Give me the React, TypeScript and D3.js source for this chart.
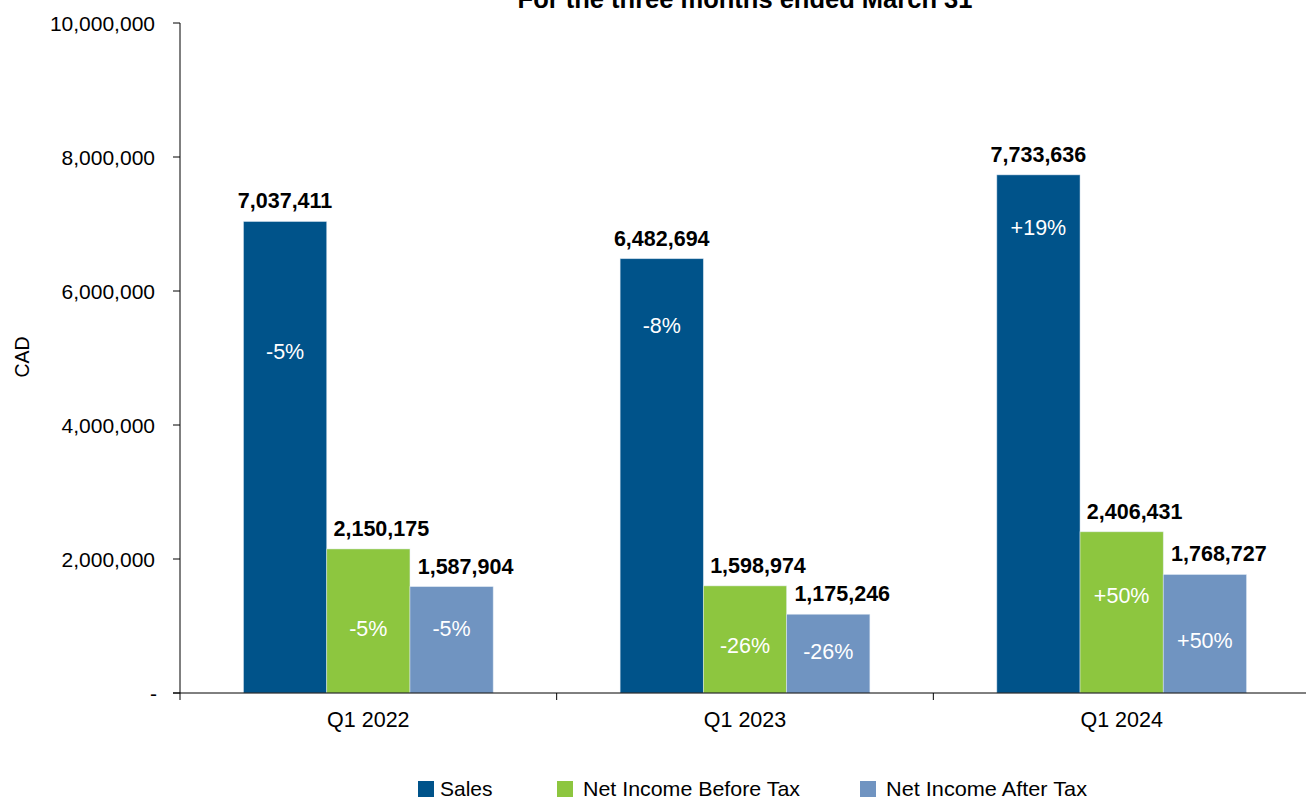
import React from "react";
import * as d3 from "d3";

const categories = ["Q1 2022", "Q1 2023", "Q1 2024"];
const seriesNames = ["Sales", "Net Income Before Tax", "Net Income After Tax"];
const sales = [7037411, 6482694, 7733636];
const netIncomeBeforeTax = [2150175, 1598974, 2406431];
const netIncomeAfterTax = [1587904, 1175246, 1768727];
const salesChange = ["-5%", "-8%", "+19%"];
const beforeTaxChange = ["-5%", "-26%", "+50%"];
const afterTaxChange = ["-5%", "-26%", "+50%"];
// vertical position (in CAD) of the change labels inside the bars
const salesChangeAt = [5100000, 5490000, 6955000];
const beforeTaxChangeAt = [970000, 716000, 1455000];
const afterTaxChangeAt = [970000, 612000, 784000];
const yTicks = [0, 2000000, 4000000, 6000000, 8000000, 10000000];
const title = "For the three months ended March 31";
const yAxisTitle = "CAD";

const colors = ["#00538a", "#8dc63f", "#7094c1"];

const W = 1306;
const H = 798;
const margin = { left: 180, right: -4, top: 23, bottom: 105 };
const FONT = "'Liberation Sans', Arial, sans-serif";

export default function App() {
  const x0 = d3
    .scaleBand<string>()
    .domain(categories)
    .range([margin.left, W - margin.right])
    .paddingInner(0)
    .paddingOuter(0);
  const innerPad = 0.1685;
  const x1 = d3
    .scaleBand<number>()
    .domain([0, 1, 2])
    .range([x0.bandwidth() * innerPad, x0.bandwidth() * (1 - innerPad)])
    .padding(0);
  const y = d3.scaleLinear().domain([0, 10000000]).range([H - margin.bottom, margin.top]);

  const values = [sales, netIncomeBeforeTax, netIncomeAfterTax];
  const changes = [salesChange, beforeTaxChange, afterTaxChange];
  const changeAt = [salesChangeAt, beforeTaxChangeAt, afterTaxChangeAt];
  const valueDx = [0, 13, 14];
  const fmt = d3.format(",");
  const x0Left = margin.left;
  const x0Right = W - margin.right;
  const y0 = y(0);

  const legendX = [418, 557, 860];

  return (
    <svg
      width={W}
      height={H}
      style={{ position: "absolute", left: 0, top: 0, background: "#fff" }}
      fontFamily={FONT}
    >
      <text x={(x0Left + x0Right) / 2} y={8} textAnchor="middle" fontSize={25.5} fontWeight="bold" fill="#000">
        {title}
      </text>

      {/* y axis */}
      <line x1={x0Left} x2={x0Left} y1={y(10000000)} y2={y0 + 7} stroke="#000" strokeWidth={1} />
      {yTicks.map((t) => (
        <g key={t}>
          <line x1={x0Left - 7} x2={x0Left} y1={y(t)} y2={y(t)} stroke="#000" />
          <text x={t === 0 ? 157 : 155} y={y(t) + 7.5} textAnchor="end" fontSize={21} fill="#000">
            {t === 0 ? "-" : fmt(t)}
          </text>
        </g>
      ))}
      <text
        transform={`translate(29, ${y(5000000) - 1}) rotate(-90)`}
        textAnchor="middle"
        fontSize={19.5}
        fill="#000"
      >
        {yAxisTitle}
      </text>

      {/* bars */}
      {categories.map((c, ci) => (
        <g key={c} transform={`translate(${x0(c)},0)`}>
          {values.map((arr, si) => (
            <rect
              key={si}
              x={x1(si)}
              y={y(arr[ci])}
              width={x1.bandwidth()}
              height={y0 - y(arr[ci])}
              fill={colors[si]}
              stroke="#e6eef6"
              strokeOpacity={0.6}
              strokeWidth={0.8}
            />
          ))}
          {values.map((arr, si) => (
            <text
              key={"v" + si}
              x={(x1(si) as number) + x1.bandwidth() / 2 + valueDx[si]}
              y={y(arr[ci]) - 13}
              textAnchor="middle"
              fontSize={21.5}
              fontWeight="bold"
              fill="#000"
            >
              {fmt(arr[ci])}
            </text>
          ))}
          {changes.map((arr, si) => (
            <text
              key={"p" + si}
              x={(x1(si) as number) + x1.bandwidth() / 2}
              y={y(changeAt[si][ci]) + 7.5}
              textAnchor="middle"
              fontSize={21.5}
              fill="#fff"
            >
              {arr[ci]}
            </text>
          ))}
        </g>
      ))}

      {/* x axis */}
      <line x1={x0Left - 7} x2={x0Right} y1={y0} y2={y0} stroke="#000" strokeWidth={1} />
      {categories.map((c, ci) =>
        ci > 0 ? (
          <line key={"t" + c} x1={x0(c)} x2={x0(c)} y1={y0} y2={y0 + 7} stroke="#000" />
        ) : null
      )}
      {categories.map((c) => (
        <text
          key={"l" + c}
          x={(x0(c) as number) + x0.bandwidth() / 2}
          y={727}
          textAnchor="middle"
          fontSize={21.5}
          fill="#000"
        >
          {c}
        </text>
      ))}

      {/* legend */}
      {seriesNames.map((n, i) => (
        <g key={n}>
          <rect x={legendX[i]} y={781} width={16} height={16} fill={colors[i]} />
          <text
            x={legendX[i] + (i === 0 ? 22 : 26)}
            y={796}
            fontSize={21}
            textLength={i === 0 ? undefined : i === 1 ? 217 : 201}
            lengthAdjust="spacingAndGlyphs"
            fill="#000"
          >
            {n}
          </text>
        </g>
      ))}
    </svg>
  );
}
